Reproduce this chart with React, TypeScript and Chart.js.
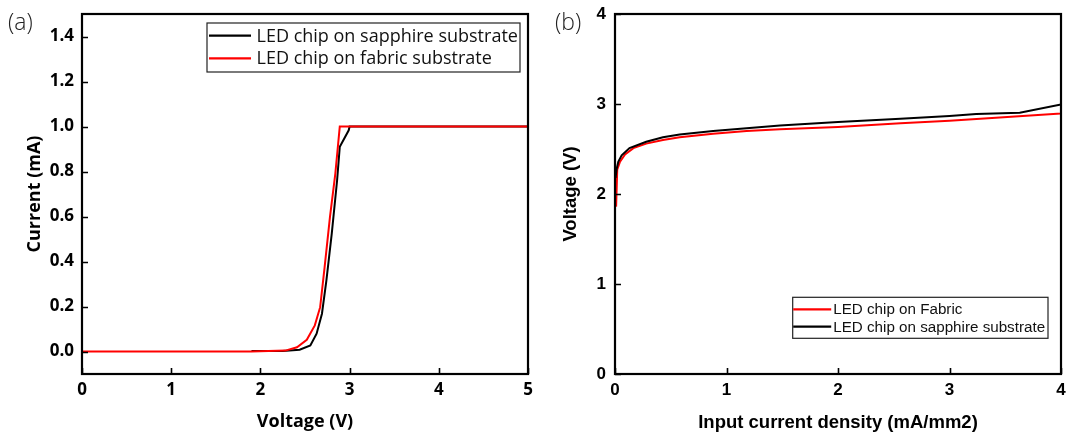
import { useEffect, useRef } from "react";
import { Chart, registerables } from "chart.js";

Chart.register(...registerables);

// ---------- Panel (a): I-V curves ----------
const voltageFabricA = [0, 1.9, 2.28, 2.41, 2.52, 2.61, 2.67, 2.72, 2.78, 2.84, 2.89, 5];
const currentFabricA = [0, 0, 0.004, 0.019, 0.052, 0.116, 0.197, 0.375, 0.598, 0.791, 1.0, 1.0];
const voltageSapphireA = [1.9, 2.25, 2.44, 2.56, 2.63, 2.69, 2.74, 2.8, 2.86, 2.89, 2.99, 3.0, 5];
const currentSapphireA = [0.002, 0.002, 0.008, 0.027, 0.079, 0.168, 0.316, 0.524, 0.761, 0.91, 0.983, 1.0, 1.0];
const xTicksA = [0, 1, 2, 3, 4, 5];
const yTicksA = [0, 0.2, 0.4, 0.6, 0.8, 1.0, 1.2, 1.4];
const labelsA = ["LED chip on sapphire substrate", "LED chip on fabric substrate"];

// ---------- Panel (b): V vs current density ----------
const densityFabricB = [0.01, 0.02, 0.045, 0.09, 0.165, 0.28, 0.43, 0.58, 0.88, 1.18, 1.48, 2.0, 2.56, 3.0, 3.45, 4.0, 4.0];
const voltageFabricB = [1.86, 2.27, 2.36, 2.44, 2.51, 2.56, 2.6, 2.63, 2.67, 2.7, 2.72, 2.745, 2.785, 2.815, 2.85, 2.895, 2.97];
const densitySapphireB = [0.005, 0.015, 0.03, 0.06, 0.13, 0.28, 0.43, 0.58, 0.88, 1.18, 1.48, 2.0, 2.56, 3.0, 3.24, 3.63, 4.0];
const voltageSapphireB = [2.18, 2.28, 2.36, 2.43, 2.51, 2.58, 2.63, 2.66, 2.7, 2.73, 2.76, 2.8, 2.835, 2.867, 2.89, 2.903, 2.995];
const xTicksB = [0, 1, 2, 3, 4];
const yTicksB = [0, 1, 2, 3, 4];
const labelsB = ["LED chip on Fabric", "LED chip on sapphire substrate"];

const RED = "#ff0000";
const BLACK = "#000000";

const toPoints = (xs: number[], ys: number[]) => xs.map((x, i) => ({ x, y: ys[i] }));

const frameLegendPlugin = {
  id: "frameLegend",
  afterDatasetsDraw(chart: any, _args: any, opts: any) {
    const { ctx, chartArea } = chart;
    const { left, right, top, bottom } = chartArea;
    const xs = chart.scales.x;
    const ys = chart.scales.y;
    ctx.save();
    // inward ticks
    ctx.strokeStyle = "#000";
    ctx.lineWidth = opts.tickWidth;
    ctx.beginPath();
    xs.ticks.forEach((t: any) => {
      const px = Math.round(xs.getPixelForValue(t.value)) + 0.5;
      ctx.moveTo(px, bottom);
      ctx.lineTo(px, bottom - opts.tickLen);
    });
    ys.ticks.forEach((t: any) => {
      const py = Math.round(ys.getPixelForValue(t.value)) + 0.5;
      ctx.moveTo(left, py);
      ctx.lineTo(left + opts.tickLen, py);
    });
    ctx.stroke();
    // frame
    ctx.lineWidth = opts.frameWidth;
    ctx.strokeRect(left, top, right - left, bottom - top);
    // legend
    const lg = opts.legend;
    ctx.fillStyle = "#fff";
    ctx.fillRect(lg.x, lg.y, lg.w, lg.h);
    ctx.lineWidth = 1.2;
    ctx.strokeStyle = "#222";
    ctx.strokeRect(lg.x, lg.y, lg.w, lg.h);
    ctx.font = lg.font;
    ctx.textBaseline = "middle";
    ctx.textAlign = "left";
    lg.order.forEach((di: number, row: number) => {
      const ds = chart.data.datasets[di];
      const cy = lg.y + lg.firstRow + row * lg.rowGap;
      ctx.strokeStyle = ds.borderColor;
      ctx.lineWidth = 2.2;
      ctx.beginPath();
      ctx.moveTo(lg.x + lg.lineStart, cy);
      ctx.lineTo(lg.x + lg.lineStart + lg.lineLen, cy);
      ctx.stroke();
      ctx.fillStyle = "#111";
      ctx.fillText(ds.label, lg.x + lg.textStart, cy + 1);
    });
    ctx.restore();
  },
};

function makeScale(
  ticksArr: number[],
  min: number,
  max: number,
  title: string,
  tickFont: any,
  titleFont: any,
  titlePad: any,
  tickPad: number,
  size: number,
  horizontal: boolean,
  fmt: (v: number) => string
) {
  return {
    type: "linear",
    min,
    max,
    grid: { display: false, drawTicks: false },
    border: { display: false },
    ticks: {
      padding: tickPad,
      font: tickFont,
      color: "#000",
      autoSkip: false,
      maxRotation: 0,
      callback: (v: any) => fmt(Number(v)),
    },
    title: { display: true, text: title, font: titleFont, color: "#000", padding: titlePad },
    afterBuildTicks: (s: any) => {
      s.ticks = ticksArr.map((v) => ({ value: v }));
    },
    afterFit: (s: any) => {
      if (horizontal) s.height = size;
      else s.width = size;
      s.paddingLeft = 0;
      s.paddingRight = 0;
      s.paddingTop = 0;
      s.paddingBottom = 0;
    },
  };
}

function ChartA() {
  const ref = useRef<HTMLCanvasElement>(null);
  useEffect(() => {
    const tickFont = { family: "'Open Sans'", size: 17, weight: "bold" };
    const titleFont = { family: "'Open Sans'", size: 18, weight: "bold" };
    const chart = new Chart(ref.current as HTMLCanvasElement, {
      type: "line",
      data: {
        datasets: [
          {
            label: labelsA[0],
            data: toPoints(voltageSapphireA, currentSapphireA),
            borderColor: BLACK,
            borderWidth: 2,
            pointRadius: 0,
            tension: 0,
            order: 1,
          },
          {
            label: labelsA[1],
            data: toPoints(voltageFabricA, currentFabricA),
            borderColor: RED,
            borderWidth: 2,
            pointRadius: 0,
            tension: 0,
            order: 0,
          },
        ],
      },
      options: {
        animation: false,
        responsive: false,
        maintainAspectRatio: false,
        layout: { padding: { left: 0, right: 12, top: 14, bottom: 0 } },
        plugins: {
          legend: { display: false },
          tooltip: { enabled: false },
          frameLegend: {
            tickLen: 6,
            tickWidth: 1.6,
            frameWidth: 2.2,
            legend: {
              x: 207,
              y: 23,
              w: 313,
              h: 49,
              firstRow: 12.7,
              rowGap: 22.6,
              lineStart: 2,
              lineLen: 42,
              textStart: 49.5,
              font: "18px 'Open Sans'",
              order: [0, 1],
            },
          },
        } as any,
        scales: {
          x: makeScale(xTicksA, 0, 5, "Voltage (V)", tickFont, titleFont, { top: 0, bottom: 1 }, 6, 60, true, (v) => String(v)),
          y: makeScale(yTicksA, -0.1, 1.5, "Current (mA)", tickFont, titleFont, { top: 24, bottom: 0 }, 8, 82, false, (v) => v.toFixed(1)),
        } as any,
      },
      plugins: [frameLegendPlugin],
    } as any);
    return () => chart.destroy();
  }, []);
  return <canvas ref={ref} width={540} height={434} style={{ width: 540, height: 434, display: "block" }} />;
}

function ChartB() {
  const ref = useRef<HTMLCanvasElement>(null);
  useEffect(() => {
    const tickFont = { family: "'Liberation Sans', Arial", size: 17, weight: "bold" };
    const titleFont = { family: "'Liberation Sans', Arial", size: 18.5, weight: "bold" };
    const chart = new Chart(ref.current as HTMLCanvasElement, {
      type: "line",
      data: {
        datasets: [
          {
            label: labelsB[0],
            data: toPoints(densityFabricB, voltageFabricB),
            borderColor: RED,
            borderWidth: 2,
            pointRadius: 0,
            tension: 0,
            order: 1,
          },
          {
            label: labelsB[1],
            data: toPoints(densitySapphireB, voltageSapphireB),
            borderColor: BLACK,
            borderWidth: 2,
            pointRadius: 0,
            tension: 0,
            order: 0,
          },
        ],
      },
      options: {
        animation: false,
        responsive: false,
        maintainAspectRatio: false,
        layout: { padding: { left: 0, right: 5, top: 14, bottom: 0 } },
        plugins: {
          legend: { display: false },
          tooltip: { enabled: false },
          frameLegend: {
            tickLen: 6,
            tickWidth: 1.6,
            frameWidth: 2.2,
            legend: {
              x: 252.7,
              y: 297.3,
              w: 255.3,
              h: 41,
              firstRow: 12,
              rowGap: 17.4,
              lineStart: 0.5,
              lineLen: 38,
              textStart: 40.5,
              font: "15.2px 'Liberation Sans', Arial",
              order: [0, 1],
            },
          },
        } as any,
        scales: {
          x: makeScale(xTicksB, 0, 4, "Input current density (mA/mm2)", tickFont, titleFont, { top: 0, bottom: 0 }, 6, 60, true, (v) => String(v)),
          y: makeScale(yTicksB, 0, 4, "Voltage (V)", tickFont, titleFont, { top: 20, bottom: 0 }, 9, 75, false, (v) => String(v)),
        } as any,
      },
      plugins: [frameLegendPlugin],
    } as any);
    return () => chart.destroy();
  }, []);
  return <canvas ref={ref} width={526} height={434} style={{ width: 526, height: 434, display: "block" }} />;
}

export default function App() {
  const panelLabel: any = {
    position: "absolute",
    top: 10.5,
    fontFamily: "'Open Sans', sans-serif",
    fontSize: 23,
    fontWeight: 300,
    lineHeight: "20px",
    color: "#222",
  };
  return (
    <div style={{ position: "absolute", left: 0, top: 0, width: 1066, height: 434, background: "#fff", overflow: "hidden" }}>
      <div style={{ position: "absolute", left: 0, top: 0 }}>
        <ChartA />
      </div>
      <div style={{ position: "absolute", left: 540, top: 0 }}>
        <ChartB />
      </div>
      <div style={{ ...panelLabel, left: 8 }}>(a)</div>
      <div style={{ ...panelLabel, left: 555 }}>(b)</div>
    </div>
  );
}
